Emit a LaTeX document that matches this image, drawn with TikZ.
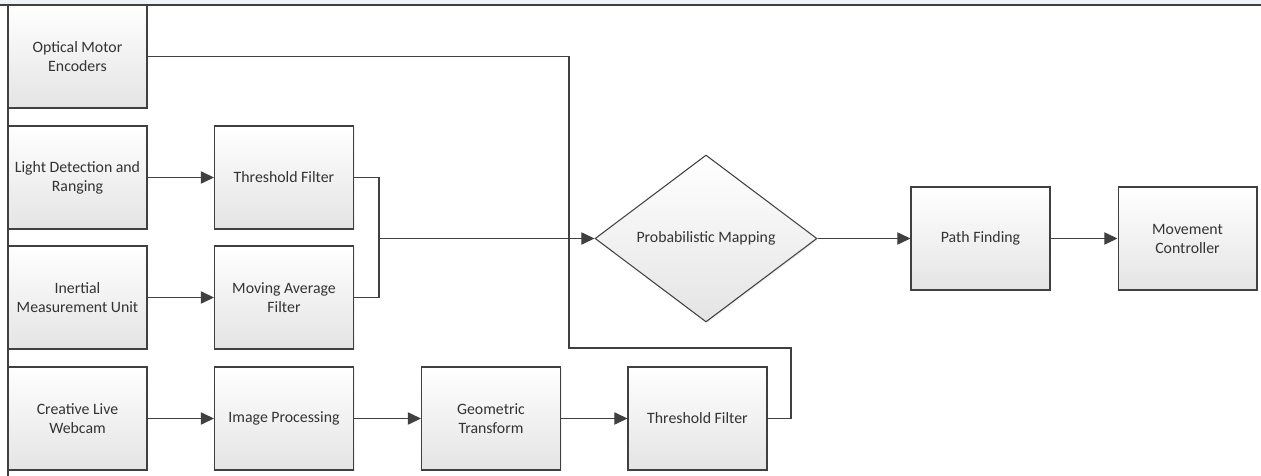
\documentclass[tikz,border=0pt]{standalone}
\usepackage{fontspec}
\setmainfont{Carlito}
\usetikzlibrary{arrows.meta,shapes.geometric,shadows}
\definecolor{linegray}{HTML}{404040}
\definecolor{boxgray}{HTML}{E4E4E4}
\definecolor{pageblue}{HTML}{EEF3FA}

\begin{document}
\begin{tikzpicture}[x=0.02cm, y=-0.02cm,
    block/.style={draw=linegray, line width=0.6pt, top color=white, bottom color=boxgray,
        minimum width=2.78cm, minimum height=2.06cm, inner sep=2pt, align=center,
        text=black!80, font=\fontsize{9}{10.8}\selectfont,
        drop shadow={opacity=0.12, shadow xshift=0.7pt, shadow yshift=-0.7pt}},
    decide/.style={block, shape=diamond, inner sep=0pt,
        minimum width=4.44cm, minimum height=3.34cm},
    conn/.style={draw=linegray, line width=0.7pt},
    arr/.style={conn, -{Triangle[length=7.5pt,width=7pt]}}]
    % page and frame
    \useasboundingbox (0,0) rectangle (1261,476);
    \fill[pageblue] (0,0) rectangle (1261,4);
    \draw[linegray, line width=1.4pt] (0,5) -- (1261,5);
    \draw[linegray, line width=1pt] (8,5) -- (8,476);

    % sensors
    \node[block] (opt)   at (77.5,56.5)  {Optical Motor\\Encoders};
    \node[block] (lidar) at (77.5,177.5) {Light Detection and\\Ranging};
    \node[block] (imu)   at (77.5,297.5) {Inertial\\Measurement Unit};
    \node[block] (cam)   at (77.5,418.5) {Creative Live\\Webcam};

    % filters
    \node[block] (thra) at (284,177.5)   {Threshold Filter};
    \node[block] (mavg) at (284,297.5)   {Moving Average\\Filter};
    \node[block] (imgp) at (284,418.5)   {Image Processing};
    \node[block] (geo)  at (491,418.5)   {Geometric\\Transform};
    \node[block] (thrb) at (697.5,418.5) {Threshold Filter};

    % mapping and control
    \node[decide] (map) at (706,238.5)  {Probabilistic Mapping};
    \node[block] (path) at (980.5,238.5) {Path Finding};
    \node[block] (move) at (1187.5,238.5) {Movement\\Controller};

    % junctions
    \coordinate (mj) at (379,238.5);
    \coordinate (fa) at (569,348);
    \coordinate (fb) at (791,348);

    % connectors
    \draw[arr] (lidar) -- (thra);
    \draw[arr] (imu) -- (mavg);
    \draw[arr] (cam) -- (imgp);
    \draw[arr] (imgp) -- (geo);
    \draw[arr] (geo) -- (thrb);
    \draw[conn] (thra.east) -| (mj) |- (mavg.east);
    \draw[arr] (mj) -- (map.west);
    \draw[conn] (opt.east) -| (fa) -- (fb) |- (thrb.east);
    \draw[arr] (map) -- (path);
    \draw[arr] (path) -- (move);
\end{tikzpicture}
\end{document}
